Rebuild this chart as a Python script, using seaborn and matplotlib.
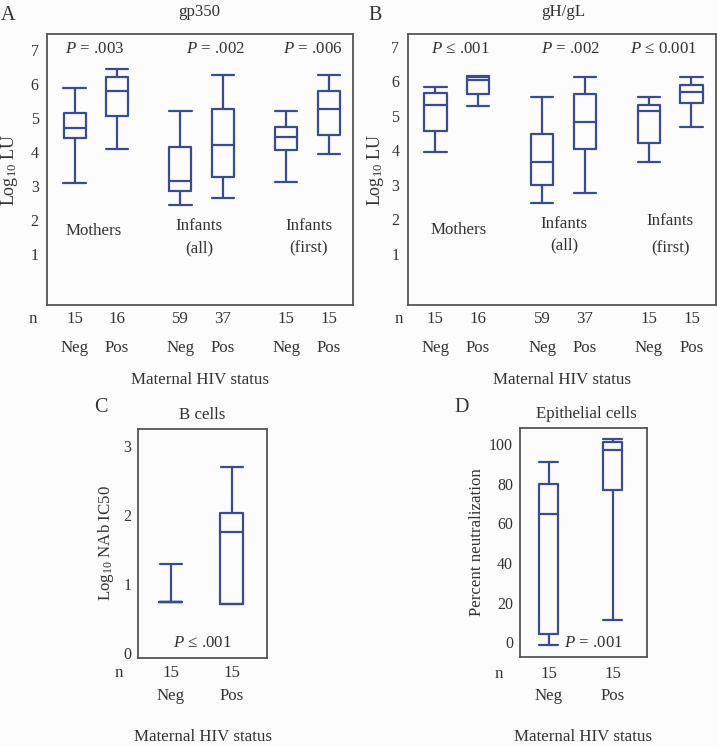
import matplotlib
matplotlib.use("Agg")
import matplotlib.pyplot as plt
import seaborn as sns
import pandas as pd
from matplotlib.transforms import blended_transform_factory

# ---------------- data (five-number summaries: min, q1, median, q3, max) ----------------
groups = ["Mothers", "Infants (all)", "Infants (first)"]
statuses = ["Neg", "Pos"]

gp350_neg = [[3.10, 4.42, 4.72, 5.15, 5.88],
             [2.45, 2.85, 3.15, 4.15, 5.20],
             [3.12, 4.05, 4.45, 4.73, 5.20]]
gp350_pos = [[4.10, 5.05, 5.80, 6.20, 6.45],
             [2.65, 3.25, 4.20, 5.25, 6.25],
             [3.95, 4.50, 5.25, 5.80, 6.25]]
gp350_n = [15, 16, 59, 37, 15, 15]
gp350_p = ["$P$ = .003", "$P$ = .002", "$P$ = .006"]

ghgl_neg = [[3.95, 4.57, 5.30, 5.65, 5.85],
            [2.48, 3.00, 3.65, 4.47, 5.55],
            [3.65, 4.22, 5.13, 5.32, 5.55]]
ghgl_pos = [[5.28, 5.62, 6.05, 6.13, 6.15],
            [2.77, 4.03, 4.83, 5.63, 6.12],
            [4.67, 5.37, 5.68, 5.90, 6.12]]
ghgl_n = [15, 16, 59, 37, 15, 15]
ghgl_p = ["$P$ ≤ .001", "$P$ = .002", "$P$ ≤ 0.001"]

bcell_neg = [0.74, 0.74, 0.74, 0.74, 1.29]
bcell_pos = [0.71, 0.71, 1.75, 2.03, 2.70]
bcell_n = [15, 15]
bcell_p = "$P$ ≤ .001"

epi_neg = [-1.5, 4.0, 65.0, 80.0, 91.0]
epi_pos = [11.0, 77.0, 97.0, 101.0, 102.5]
epi_n = [15, 15]
epi_p = "$P$ = .001"

# ---------------- style ----------------
sns.set_style("white")
plt.rcParams["font.family"] = ["Liberation Serif", "DejaVu Serif"]
plt.rcParams["mathtext.fontset"] = "custom"
plt.rcParams["mathtext.rm"] = "Liberation Serif"
plt.rcParams["mathtext.it"] = "Liberation Serif:italic"
TXT = "#333333"
BOX = "#3b4b8f"
BG = "#fcfcfc"
FS = 12.2
TFS = 11.5

W, H = 717, 746
fig = plt.figure(figsize=(W / 100, H / 100), dpi=100, facecolor=BG)


def ftext(x, y, s, **kw):
    kw.setdefault("ha", "center")
    kw.setdefault("va", "center")
    kw.setdefault("fontsize", FS)
    kw.setdefault("color", TXT)
    fig.text(x / W, 1 - y / H, s, **kw)


def add_axes(l, t, r, b):
    ax = fig.add_axes([l / W, 1 - b / H, (r - l) / W, (b - t) / H])
    ax.set_facecolor(BG)
    for sp in ax.spines.values():
        sp.set_color("#555555")
        sp.set_linewidth(1.3)
    return ax


def long_df(pairs):
    rows = []
    for grp, st, vals in pairs:
        for v in vals:
            rows.append({"group": grp, "status": st, "value": v})
    return pd.DataFrame(rows)


def style_axis(ax, ylim, yticks, pad):
    ax.set_xticks([])
    ax.set_xlabel("")
    ax.set_ylabel("")
    ax.set_ylim(*ylim)
    ax.set_yticks(yticks)
    ax.set_yticklabels([str(t) for t in yticks])
    ax.tick_params(axis="y", length=0, pad=pad, labelsize=TFS, labelcolor=TXT)


def bottom_labels(ax, xs, ns, labels, ny, sy):
    tr = blended_transform_factory(ax.transData, fig.transFigure)
    for x, n, lab in zip(xs, ns, labels):
        ax.text(x, 1 - ny / H, str(n), transform=tr, ha="center", va="center",
                fontsize=FS, color=TXT)
        ax.text(x, 1 - sy / H, lab, transform=tr, ha="center", va="center",
                fontsize=FS, color=TXT)


pal = {"Neg": BOX, "Pos": BOX}

# ---------------- panel A / B ----------------
def top_panel(l, r, neg, pos, ns, ylim, pad):
    ax = add_axes(l, 34, r, 305)
    pairs = []
    for g, vn, vp in zip(groups, neg, pos):
        pairs.append((g, "Neg", vn))
        pairs.append((g, "Pos", vp))
    df = long_df(pairs)
    sns.boxplot(data=df, x="group", y="value", hue="status", order=groups,
                hue_order=statuses, palette=pal, fill=False, whis=(0, 100),
                width=0.8, gap=0.48, linewidth=1.6, legend=False, ax=ax,
                capwidths=0.21)
    ax.set_xlim(-0.46, 2.43)
    style_axis(ax, ylim, list(range(1, 8)), pad)
    xs = [g + d for g in range(3) for d in (-0.2, 0.2)]
    bottom_labels(ax, xs, ns, statuses * 3, 319, 348)
    return ax


axA = top_panel(47, 353, gp350_neg, gp350_pos, gp350_n, (-0.5, 7.47), 6)
axB = top_panel(407.7, 716, ghgl_neg, ghgl_pos, ghgl_n, (-0.476, 7.37), 6)

# Panel A texts
ftext(1, 16, "A", fontsize=14.5, ha="left")
ftext(199, 12, "gp350")
ftext(9, 170, "Log$_{10}$ LU", rotation=90, fontsize=13)
ftext(33, 319, "n")
ftext(200, 380, "Maternal HIV status")
for x, s in zip([95, 215, 313], gp350_p):
    ftext(x, 49, s)
ftext(94, 231, "Mothers")
ftext(199, 226, "Infants")
ftext(199, 248, "(all)")
ftext(309, 226, "Infants")
ftext(309, 248, "(first)")

# Panel B texts
ftext(368, 16, "B", fontsize=14.5, ha="left")
ftext(563, 12, "gH/gL")
ftext(375, 170, "Log$_{10}$ LU", rotation=90, fontsize=13)
ftext(399, 319, "n")
ftext(562, 380, "Maternal HIV status")
for x, s in zip([460, 570, 664], ghgl_p):
    ftext(x, 49, s)
ftext(459, 230, "Mothers")
ftext(564, 224, "Infants")
ftext(564, 245, "(all)")
ftext(670, 221, "Infants")
ftext(670, 248, "(first)")

# ---------------- panel C ----------------
axC = add_axes(138.3, 429.3, 266.7, 658.3)
dfC = long_df([("x", "Neg", bcell_neg), ("x", "Pos", bcell_pos)])
sns.boxplot(data=dfC, x="status", y="value", hue="status", order=statuses,
            hue_order=statuses, palette=pal, fill=False, whis=(0, 100),
            width=0.38, linewidth=1.6, legend=False, ax=axC, capwidths=0.36)
axC.set_xlim(-0.53, 1.57)
style_axis(axC, (-0.07, 3.24), [0, 1, 2, 3], 5)
bottom_labels(axC, [0, 1], bcell_n, statuses, 673, 696)
ftext(94, 408, "C", fontsize=14.5, ha="left")
ftext(202, 415, "B cells")
ftext(106, 543, "Log$_{10}$ NAb IC50", rotation=90)
ftext(202, 643, bcell_p)
ftext(119, 673, "n")
ftext(203, 737, "Maternal HIV status")

# ---------------- panel D ----------------
axD = add_axes(520, 427.7, 647.3, 656.7)
dfD = long_df([("x", "Neg", epi_neg), ("x", "Pos", epi_pos)])
sns.boxplot(data=dfD, x="status", y="value", hue="status", order=statuses,
            hue_order=statuses, palette=pal, fill=False, whis=(0, 100),
            width=0.3, linewidth=1.6, legend=False, ax=axD, capwidths=0.3)
axD.set_xlim(-0.45, 1.54)
style_axis(axD, (-7.3, 108.4), [0, 20, 40, 60, 80, 100], 5)
bottom_labels(axD, [0, 1], epi_n, statuses, 674, 696)
ftext(454, 408, "D", fontsize=14.5, ha="left")
ftext(586, 414, "Epithelial cells")
ftext(477, 542, "Percent neutralization", rotation=90)
ftext(593, 643, epi_p)
ftext(499, 674, "n")
ftext(583, 737, "Maternal HIV status")

fig.savefig("out.png", dpi=100, facecolor=BG)
